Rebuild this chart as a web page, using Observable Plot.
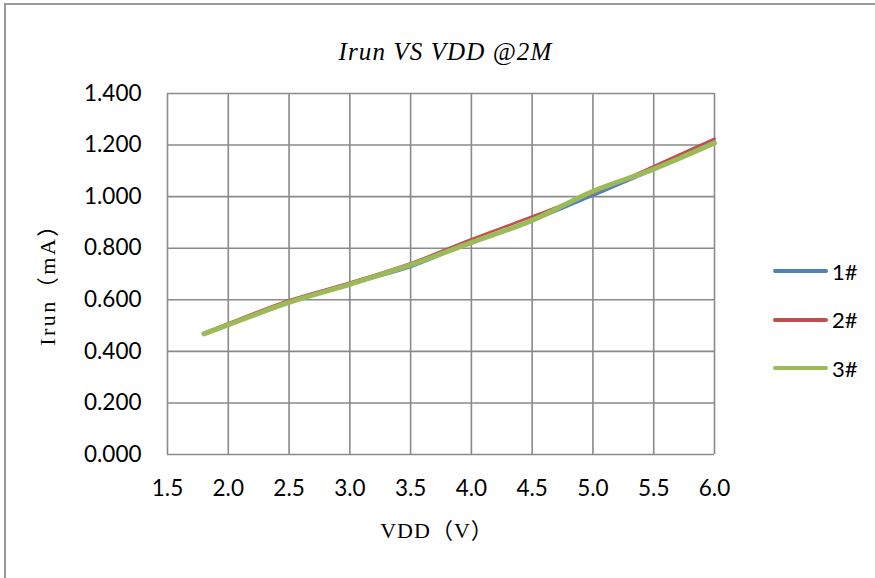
<!DOCTYPE html>
<html>
<head>
<meta charset="utf-8">
<script src="https://cdn.jsdelivr.net/npm/d3@7"></script>
<script src="https://cdn.jsdelivr.net/npm/@observablehq/plot@0.6"></script>
<style>
  html, body { margin: 0; padding: 0; background: #fff; }
  #wrap { position: relative; width: 875px; height: 578px; overflow: hidden; }
  #border { position: absolute; left: 4px; top: 3px; width: 900px; height: 600px;
            border-top: 2px solid #999; border-left: 2px solid #999; }
  #title { position: absolute; left: 8px; width: 875px; top: 38px; text-align: center;
           font-family: "Liberation Serif", serif; font-style: italic; font-size: 25px; letter-spacing: 1.1px; color: #000; }
  #ytitle { position: absolute; left: 45px; top: 279px; transform: translate(-50%, -50%) rotate(-90deg);
            white-space: nowrap; font-family: "Liberation Serif", "Noto Sans CJK SC", serif; font-size: 22px; letter-spacing: 2.5px; color: #000; }
  #xtitle { position: absolute; left: 437px; top: 528px; transform: translate(-50%, -50%);
            white-space: nowrap; font-family: "Liberation Serif", "Noto Sans CJK SC", serif; font-size: 22px; letter-spacing: 1px; color: #000; }
  #legend { position: absolute; left: 773px; top: 247px; font-family: Lato, sans-serif; font-size: 22px; color: #000; }
  .item { display: flex; align-items: center; height: 48.5px; }
  .sw { width: 55px; height: 4px; border-radius: 2px; margin-right: 4px; }
  svg { position: absolute; left: 0; top: 0; }
</style>
</head>
<body>
<div id="wrap">
  <div id="border"></div>
  <div id="chart"></div>
  <div id="title"></div>
  <div id="ytitle"></div>
  <div id="xtitle"></div>
  <div id="legend"></div>
</div>
<script>
const vdd = [1.8, 2.0, 2.5, 3.0, 3.5, 4.0, 4.5, 5.0, 5.5, 6.0];
const s1 = [0.470, 0.505, 0.592, 0.660, 0.727, 0.822, 0.906, 1.004, 1.105, 1.215];
const s2 = [0.472, 0.509, 0.598, 0.667, 0.742, 0.835, 0.923, 1.014, 1.118, 1.225];
const s3 = [0.468, 0.503, 0.590, 0.660, 0.735, 0.822, 0.908, 1.021, 1.107, 1.208];
const seriesNames = ["1#", "2#", "3#"];
const seriesColors = ["#4F81BD", "#C0504D", "#9BBB59"];
const seriesWidths = [2.6, 2.6, 5];
const xTicks = [1.5, 2.0, 2.5, 3.0, 3.5, 4.0, 4.5, 5.0, 5.5, 6.0];
const yTicks = [0, 0.2, 0.4, 0.6, 0.8, 1.0, 1.2, 1.4];
const titleText = "Irun VS VDD @2M";
const xLabel = "VDD（V）";
const yLabel = "Irun（mA）";

const allSeries = [s1, s2, s3];
const rows = allSeries.map((s, i) => vdd.map((x, j) => ({x, y: s[j], name: seriesNames[i]})));

const plot = Plot.plot({
  width: 875,
  height: 578,
  marginLeft: 167,
  marginRight: 161,
  marginTop: 93,
  marginBottom: 124,
  style: { fontFamily: "Lato, sans-serif", fontSize: "22px", color: "#000", background: "transparent" },
  x: { domain: [1.5, 6.0] },
  y: { domain: [0, 1.4] },
  marks: [
    Plot.gridX(xTicks, { stroke: "#8a8a8a", strokeOpacity: 1, strokeWidth: 1.6 }),
    Plot.gridY(yTicks, { stroke: "#8a8a8a", strokeOpacity: 1, strokeWidth: 1.6 }),
    Plot.axisX(xTicks, { tickSize: 0, tickPadding: 26, tickFormat: d => d.toFixed(1), fontSize: 22.5, label: null }),
    Plot.axisY(yTicks, { tickSize: 0, tickPadding: 26, tickFormat: d => d.toFixed(3), fontSize: 22.5, label: null }),
    ...rows.map((r, i) => Plot.line(r, {
      x: "x", y: "y", stroke: seriesColors[i], strokeWidth: seriesWidths[i],
      curve: "catmull-rom", strokeLinecap: "round", strokeLinejoin: "round"
    }))
  ]
});
document.getElementById("chart").appendChild(plot);
document.getElementById("title").textContent = titleText;
document.getElementById("xtitle").textContent = xLabel;
document.getElementById("ytitle").textContent = yLabel;
const lg = document.getElementById("legend");
seriesNames.forEach((n, i) => {
  const it = document.createElement("div");
  it.className = "item";
  const sw = document.createElement("div");
  sw.className = "sw";
  sw.style.background = seriesColors[i];
  const tx = document.createElement("span");
  tx.textContent = n;
  it.appendChild(sw);
  it.appendChild(tx);
  lg.appendChild(it);
});
</script>
</body>
</html>
